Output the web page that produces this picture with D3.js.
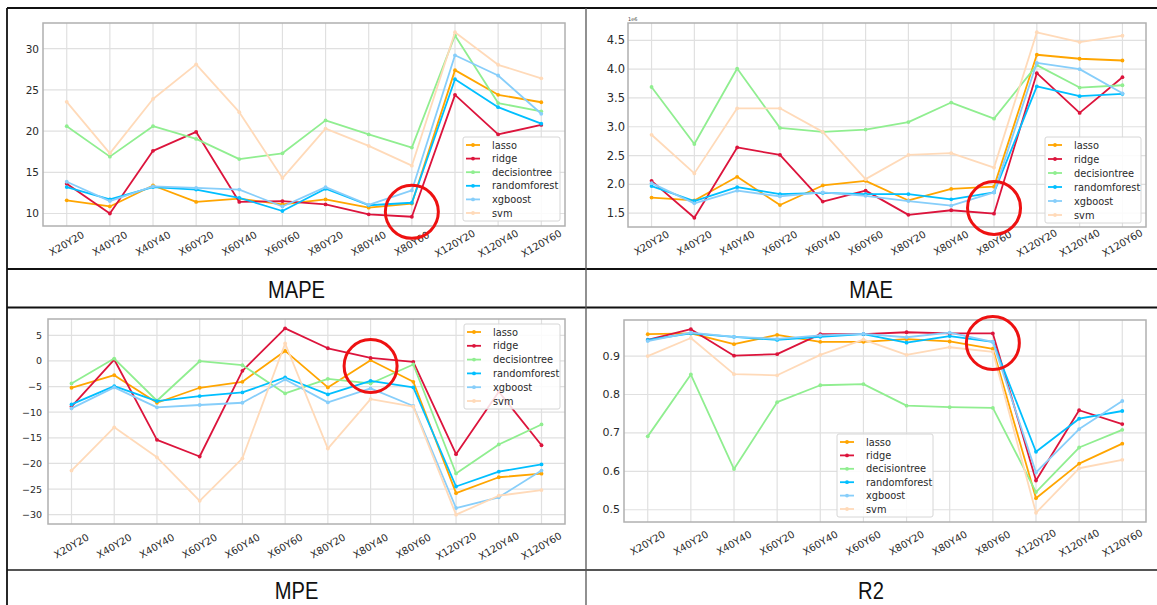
<!DOCTYPE html>
<html>
<head>
<meta charset="utf-8">
<script src="https://cdn.jsdelivr.net/npm/d3@7"></script>
<style>
  html, body { margin: 0; padding: 0; background: #fff; }
  svg { display: block; }
  text { font-family: "DejaVu Sans", sans-serif; }
</style>
</head>
<body>
<svg id="chart" width="1157" height="605"></svg>
<script>
// Experiment categories (grid sizes) and the regression models compared
const categories = ["X20Y20","X40Y20","X40Y40","X60Y20","X60Y40","X60Y60","X80Y20","X80Y40","X80Y60","X120Y20","X120Y40","X120Y60"];
const models = ["lasso","ridge","decisiontree","randomforest","xgboost","svm"];
const modelColors = ["#FFA500","#DC143C","#90EE90","#00BFFF","#87CEFA","#FFDAB9"];

// One row per model, one value per category
const mapeValues = [
  [11.6, 10.85, 13.4, 11.4, 11.8, 11.1, 11.7, 10.7, 11.2, 27.4, 24.4, 23.5],
  [13.6, 10.0, 17.6, 19.9, 11.4, 11.5, 11.1, 9.9, 9.6, 24.4, 19.6, 20.75],
  [20.6, 16.9, 20.6, 19.05, 16.6, 17.3, 21.3, 19.6, 18.0, 31.6, 23.4, 22.4],
  [13.2, 11.7, 13.2, 12.9, 11.9, 10.3, 13.0, 11.0, 11.3, 26.3, 22.9, 20.9],
  [13.85, 11.5, 13.3, 13.1, 12.9, 10.85, 13.2, 11.05, 12.8, 29.2, 26.75, 22.1],
  [23.55, 17.3, 23.9, 28.1, 22.3, 14.3, 20.3, 18.2, 15.8, 32.0, 28.05, 26.4]
];

// MAE in units of 1e6
const maeValues = [
  [1.77, 1.72, 2.13, 1.64, 1.98, 2.06, 1.72, 1.92, 1.96, 4.25, 4.18, 4.15],
  [2.06, 1.42, 2.64, 2.51, 1.70, 1.89, 1.47, 1.55, 1.49, 3.93, 3.24, 3.86],
  [3.69, 2.70, 4.01, 2.98, 2.91, 2.95, 3.08, 3.42, 3.14, 4.07, 3.68, 3.72],
  [1.97, 1.71, 1.95, 1.83, 1.85, 1.83, 1.83, 1.74, 1.86, 3.70, 3.53, 3.57],
  [2.02, 1.67, 1.89, 1.79, 1.86, 1.80, 1.71, 1.63, 1.86, 4.11, 4.00, 3.58],
  [2.86, 2.19, 3.32, 3.32, 2.91, 2.09, 2.51, 2.54, 2.29, 4.64, 4.47, 4.58]
];

const mpeValues = [
  [-5.24, -2.78, -8.16, -5.24, -4.07, 1.95, -5.17, 0.14, -4.07, -25.8, -22.7, -22.0],
  [-8.9, 0.27, -15.4, -18.65, -1.93, 6.36, 2.47, 0.59, -0.18, -18.2, -6.0, -16.45],
  [-4.4, 0.46, -7.77, -0.06, -0.83, -6.34, -3.49, -4.4, -0.7, -21.96, -16.3, -12.4],
  [-8.48, -4.92, -7.83, -6.86, -6.15, -3.23, -6.54, -3.88, -5.17, -24.5, -21.6, -20.2],
  [-9.26, -5.17, -9.06, -8.6, -8.16, -3.62, -8.09, -5.37, -8.8, -28.7, -26.6, -21.4],
  [-21.4, -12.95, -18.8, -27.3, -19.0, 3.4, -17.1, -7.44, -8.93, -30.0, -26.3, -25.2]
];

const r2Values = [
  [0.957, 0.959, 0.931, 0.955, 0.937, 0.937, 0.944, 0.938, 0.919, 0.530, 0.620, 0.672],
  [0.942, 0.970, 0.901, 0.905, 0.957, 0.957, 0.962, 0.959, 0.959, 0.576, 0.759, 0.723],
  [0.691, 0.852, 0.606, 0.780, 0.824, 0.827, 0.771, 0.767, 0.765, 0.546, 0.662, 0.708],
  [0.942, 0.959, 0.950, 0.942, 0.950, 0.957, 0.935, 0.952, 0.937, 0.651, 0.737, 0.757],
  [0.939, 0.961, 0.950, 0.945, 0.954, 0.958, 0.949, 0.961, 0.937, 0.597, 0.710, 0.783],
  [0.900, 0.947, 0.853, 0.850, 0.903, 0.943, 0.903, 0.923, 0.911, 0.492, 0.608, 0.630]
];

// Tick values per metric
const mapeTicks = [10, 15, 20, 25, 30];
const maeTicks = [1.5, 2.0, 2.5, 3.0, 3.5, 4.0, 4.5];
const mpeTicks = [-30, -25, -20, -15, -10, -5, 0, 5];
const r2Ticks = [0.5, 0.6, 0.7, 0.8, 0.9];

// Panel captions and the highlighted point on each panel
const captions = ["MAPE", "MAE", "MPE", "R2"];
const highlightCategories = ["X80Y60", "X80Y60", "X80Y40", "X80Y60"];
const highlightValues = [10.2, 1.59, -1.0, 0.934];

const svg = d3.select("#chart");
svg.append("rect").attr("width", 1157).attr("height", 605).attr("fill", "#fff");

const minus = s => s.replace("-", "\u2212");

const panels = [
  { values: mapeValues, ticks: mapeTicks, fmt: d => minus(d3.format("d")(d)),
    box: { l: 43, t: 23, r: 565, b: 226 }, yFont: 10.5, yGap: 4, xOff: 17.5,
    legend: { x: 463, y: 137, w: 97, h: 84 } },
  { values: maeValues, ticks: maeTicks, fmt: d => d3.format(".1f")(d),
    box: { l: 628, t: 23, r: 1146, b: 227 }, yFont: 11.5, yGap: 3, xOff: 16,
    legend: { x: 1045, y: 137, w: 96, h: 86 }, offsetText: "1e6" },
  { values: mpeValues, ticks: mpeTicks, fmt: d => minus(d3.format("d")(d)),
    box: { l: 48, t: 319, r: 565, b: 524 }, yFont: 9.5, yGap: 6, xOff: 22,
    legend: { x: 464, y: 324, w: 96, h: 85 } },
  { values: r2Values, ticks: r2Ticks, fmt: d => d3.format(".1f")(d),
    box: { l: 624, t: 320, r: 1146, b: 522 }, yFont: 11, yGap: 4, xOff: 21,
    legend: { x: 837, y: 434, w: 96, h: 83 } }
];

panels.forEach((p, pi) => {
  const g = svg.append("g");
  const { l, t, r, b } = p.box;

  const x = d3.scalePoint().domain(categories).range([l, r]).padding(0.55);
  const all = p.values.flat();
  const lo = d3.min(all), hi = d3.max(all), m = (hi - lo) * 0.05;
  const y = d3.scaleLinear().domain([lo - m, hi + m]).range([b, t]);

  // grid
  g.append("g").selectAll("line").data(categories).join("line")
    .attr("x1", d => x(d)).attr("x2", d => x(d)).attr("y1", t).attr("y2", b)
    .attr("stroke", "#e0e0e0").attr("stroke-width", 1.2);
  g.append("g").selectAll("line").data(p.ticks).join("line")
    .attr("x1", l).attr("x2", r).attr("y1", d => y(d)).attr("y2", d => y(d))
    .attr("stroke", "#e0e0e0").attr("stroke-width", 1.2);

  // frame
  g.append("rect").attr("x", l).attr("y", t).attr("width", r - l).attr("height", b - t)
    .attr("fill", "none").attr("stroke", "#b0b0b0").attr("stroke-width", 1.5);

  // y tick labels
  g.append("g").selectAll("text").data(p.ticks).join("text")
    .attr("x", l - p.yGap).attr("y", d => y(d))
    .attr("text-anchor", "end").attr("dominant-baseline", "central")
    .attr("font-size", p.yFont).attr("fill", "#2a2a2a")
    .text(p.fmt);

  // x tick labels
  g.append("g").selectAll("text").data(categories).join("text")
    .attr("transform", d => `translate(${x(d)},${b + p.xOff}) rotate(-30)`)
    .attr("text-anchor", "middle").attr("dominant-baseline", "central")
    .attr("font-size", 10).attr("fill", "#2a2a2a")
    .text(d => d);

  if (p.offsetText) {
    g.append("text").attr("x", l).attr("y", t - 2).attr("font-size", 5)
      .attr("fill", "#444").text(p.offsetText);
  }

  // series
  const line = d3.line().x((d, i) => x(categories[i])).y(d => y(d));
  models.forEach((name, mi) => {
    const s = g.append("g");
    s.append("path").datum(p.values[mi]).attr("d", line)
      .attr("fill", "none").attr("stroke", modelColors[mi]).attr("stroke-width", 1.8)
      .attr("stroke-linejoin", "round");
    s.selectAll("circle").data(p.values[mi]).join("circle")
      .attr("cx", (d, i) => x(categories[i])).attr("cy", d => y(d)).attr("r", 1.9)
      .attr("fill", modelColors[mi]);
  });

  // legend
  const L = p.legend;
  const lg = g.append("g");
  lg.append("rect").attr("x", L.x).attr("y", L.y).attr("width", L.w).attr("height", L.h)
    .attr("rx", 2).attr("fill", "rgba(255,255,255,0.85)").attr("stroke", "#d6d6d6");
  const step = (L.h - 16) / 5;
  models.forEach((name, mi) => {
    const yy = L.y + 8 + mi * step;
    lg.append("line").attr("x1", L.x + 3).attr("x2", L.x + 17).attr("y1", yy).attr("y2", yy)
      .attr("stroke", modelColors[mi]).attr("stroke-width", 1.8);
    lg.append("circle").attr("cx", L.x + 10).attr("cy", yy).attr("r", 1.9).attr("fill", modelColors[mi]);
    lg.append("text").attr("x", L.x + 29).attr("y", yy).attr("dominant-baseline", "central")
      .attr("font-size", 9.8).attr("fill", "#2a2a2a").text(name);
  });

  // highlight ring
  g.append("circle")
    .attr("cx", x(highlightCategories[pi])).attr("cy", y(highlightValues[pi])).attr("r", 26.5)
    .attr("fill", "none").attr("stroke", "#ee1111").attr("stroke-width", 3);
});

// table frame and captions
const tbl = svg.append("g");
const hLines = [{ y: 8, c: "#111" }, { y: 269, c: "#111" }, { y: 307.5, c: "#111" }, { y: 570, c: "#555" }];
tbl.selectAll("line.h").data(hLines).join("line")
  .attr("x1", 7).attr("x2", 1157).attr("y1", d => d.y).attr("y2", d => d.y)
  .attr("stroke", d => d.c).attr("stroke-width", 1.8);
tbl.append("line").attr("x1", 7).attr("x2", 7).attr("y1", 8).attr("y2", 605)
  .attr("stroke", "#111").attr("stroke-width", 1.8);
tbl.append("line").attr("x1", 586).attr("x2", 586).attr("y1", 8).attr("y2", 605)
  .attr("stroke", "#555").attr("stroke-width", 1.3);

const capPos = [[296.5, 298], [871, 298], [296.5, 598.5], [871, 598.5]];
captions.forEach((c, i) => {
  tbl.append("text")
    .attr("transform", `translate(${capPos[i][0]},${capPos[i][1]}) scale(0.84,1)`)
    .attr("text-anchor", "middle")
    .style("font-family", "'Liberation Sans', Arial, sans-serif")
    .attr("font-size", 24).attr("fill", "#111")
    .text(c);
});
</script>
</body>
</html>
